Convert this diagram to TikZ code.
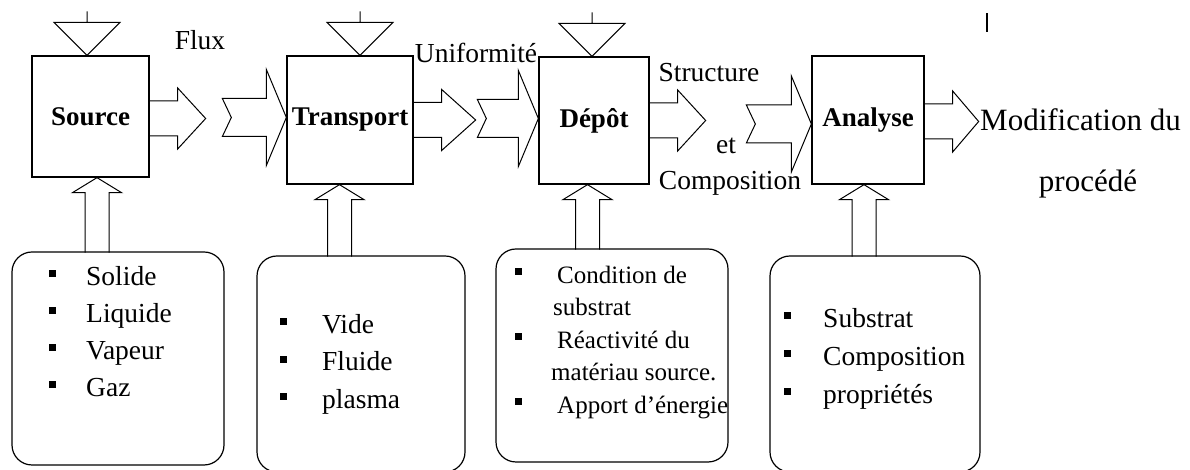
\documentclass[tikz,border=0pt]{standalone}
\usepackage{fontspec}
\setmainfont{Liberation Serif}
\usetikzlibrary{positioning,calc}

% small square bullet for the lists
\newcommand{\sq}{\raisebox{8pt}{\rule{7pt}{7pt}}}

\begin{document}
\begin{tikzpicture}[
    x=1pt, y=1pt,
    stage/.style={rectangle, draw, line width=1.3pt, inner sep=0pt, font=\fontsize{27}{32}\selectfont\bfseries},
    panel/.style={rectangle, rounded corners=20pt, draw, line width=1.2pt, inner sep=0pt},
    items/.style={anchor=north west, inner sep=0pt, align=left},
    tag/.style={inner sep=0pt, font=\fontsize{27.5}{32}\selectfont},
    blk/.style={draw, line width=1pt, line join=miter},
    pics/ctrl/.style={code={\draw[line width=1pt] (0,0) -- (-33,33) -- (33,33) -- cycle (0,33) -- (0,44);}},
    pics/lift/.style={code={\draw[blk] (-12,-#1) -- (-12,-15) -- (-24.5,-15) -- (0,0) -- (24.5,-15) -- (12,-15) -- (12,-#1);}},
    pics/outarr/.style={code={\draw[blk] (0,17.5) -- (28,17.5) -- (28,30.5) -- (#1,0) -- (28,-30.5) -- (28,-17.5) -- (0,-17.5);}},
    pics/inarr/.style={code={\draw[blk] (0,0) -- (-20,48) -- (-20,19) -- (-#1,19) -- (-#1+9,0) -- (-#1,-19) -- (-20,-19) -- (-20,-48) -- cycle;}},
]
\useasboundingbox (0,0) rectangle (1190,470);

% ====== Stages ======
\node[stage, minimum width=117, minimum height=121] (src) at (90.5,353.5) {Source};
\node[stage, minimum width=126, minimum height=128] (trn) at (350,350) {Transport};
\node[stage, minimum width=110, minimum height=127] (dep) at (594,349.5) {Dépôt};
\node[stage, minimum width=112, minimum height=128] (ana) at (868,350) {Analyse};

% controls on top
\pic at ([xshift=-3.5]src.north) {ctrl};
\pic at ([xshift=10]trn.north) {ctrl};
\pic at ([xshift=-2]dep.north) {ctrl};
\draw[line width=2.5pt] (987,438) -- (987,457);

% ====== Flow between stages ======
\pic at ([yshift=-2]src.east) {outarr=56};
\pic at ([yshift=2.5]trn.west) {inarr=64};
\pic at (trn.east) {outarr=62};
\pic at ([yshift=2]dep.west) {inarr=61};
\pic at (dep.east) {outarr=56};
\pic at ([yshift=-4]ana.west) {inarr=65};
\pic at ([yshift=-1.5]ana.east) {outarr=54};

\node[tag] (flux) at (200,430) {Flux};
\node[tag] (unif) at (476,417) {Uniformité};
\node[tag] (struc) at (709,397) {Structure};
\node[tag] (et) at (726,324) {et};
\node[tag] (compo) at (730,287) {Composition};
\node[tag, anchor=west, font=\fontsize{31}{36}\selectfont] (modif) at (980,350) {Modification du};
\node[tag, font=\fontsize{31}{36}\selectfont] (proc) at (1088,286) {procédé};

% ====== Parameter panels ======
\node[panel, minimum width=212, minimum height=213] (srcbox) at (118,111.5) {};
\node[panel, minimum width=208, minimum height=216] (trnbox) at (361,106) {};
\node[panel, minimum width=232, minimum height=213] (depbox) at (612,114.5) {};
\node[panel, minimum width=210, minimum height=216] (anabox) at (875,106) {};

\node[items, font=\fontsize{27.5}{37}\selectfont] (srcitems) at (49,210.7) {%
  \begin{tabular}{@{}l@{\hspace{30pt}}l@{}}
    \sq & Solide\\ \sq & Liquide\\ \sq & Vapeur\\ \sq & Gaz
  \end{tabular}};
\node[items, font=\fontsize{27.5}{37.5}\selectfont] (trnitems) at (279.5,163.3) {%
  \begin{tabular}{@{}l@{\hspace{35.5pt}}l@{}}
    \sq & Vide\\ \sq & Fluide\\ \sq & plasma
  \end{tabular}};
\node[items, font=\fontsize{25}{32.5}\selectfont] (depitems) at (514.5,209.8) {%
  \begin{tabular}{@{}l@{\hspace{35.5pt}}l@{}}
    \sq & Condition de\\ & \hspace{-4pt}substrat\\
    \sq & Réactivité du\\ & \hspace{-6pt}matériau source.\\
    \sq & Apport d'énergie
  \end{tabular}};
\node[items, font=\fontsize{27.5}{38}\selectfont] (anaitems) at (783.5,169.6) {%
  \begin{tabular}{@{}l@{\hspace{32.5pt}}l@{}}
    \sq & Substrat\\ \sq & Composition\\ \sq & propriétés
  \end{tabular}};

% panels feed the stages
\pic at ([xshift=6.5]src.south) {lift=75};
\pic at ([xshift=-10.5]trn.south) {lift=72};
\pic at ([xshift=-6.5]dep.south) {lift=65};
\pic at ([xshift=-4]ana.south) {lift=72};

\end{tikzpicture}
\end{document}
